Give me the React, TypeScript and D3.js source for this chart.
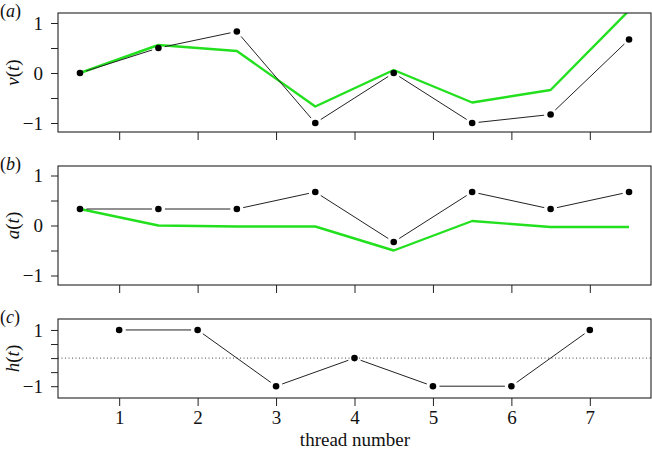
import { useEffect, useRef } from "react";
import * as d3 from "d3";

const halfSteps = [0.5, 1.5, 2.5, 3.5, 4.5, 5.5, 6.5, 7.5];
const threads = [1, 2, 3, 4, 5, 6, 7];

const vObserved = [0, 0.5, 0.83, -1, 0, -1, -0.83, 0.67];
const vModel = [0, 0.56, 0.44, -0.67, 0.06, -0.59, -0.34, 1.25];
const aObserved = [0.33, 0.33, 0.33, 0.67, -0.33, 0.67, 0.33, 0.67];
const aModel = [0.33, 0, -0.02, -0.02, -0.5, 0.09, -0.03, -0.03];
const hValues = [1, 1, -1, 0, -1, -1, 1];

const yTicks = [-1, -0.5, 0, 0.5, 1];
const xTicks = [1, 2, 3, 4, 5, 6, 7];

export default function App() {
  const ref = useRef<SVGSVGElement>(null);

  useEffect(() => {
    if (!ref.current) return;
    const svg = d3.select(ref.current);
    svg.selectAll("*").remove();

    const font = "'Liberation Serif', serif";
    const left = 58;
    const right = 651;

    const x = d3.scaleLinear().domain([0.22, 7.78]).range([left, right]);

    const panels = [
      { tag: "a", name: "v", top: 13, bottom: 132, dom: [-1.18, 1.2], xs: halfSteps, obs: vObserved, model: vModel, labels: [-1, 0, 1], zero: false, last: false },
      { tag: "b", name: "a", top: 166, bottom: 285, dom: [-1.19, 1.19], xs: halfSteps, obs: aObserved, model: aModel, labels: [-1, 0, 1], zero: false, last: false },
      { tag: "c", name: "h", top: 319, bottom: 398, dom: [-1.42, 1.39], xs: threads, obs: hValues, model: null, labels: [-1, 1], zero: true, last: true },
    ];

    panels.forEach((p, i) => {
      const y = d3.scaleLinear().domain(p.dom).range([p.bottom, p.top]);
      const g = svg.append("g");

      const clipId = `clip-${i}`;
      svg.append("clipPath").attr("id", clipId)
        .append("rect")
        .attr("x", left).attr("y", p.top)
        .attr("width", right - left).attr("height", p.bottom - p.top);

      // Zero reference line
      if (p.zero) {
        g.append("line")
          .attr("x1", left).attr("x2", right)
          .attr("y1", y(0)).attr("y2", y(0))
          .attr("stroke", "#333").attr("stroke-width", 0.9)
          .attr("stroke-dasharray", "1,2.5");
      }

      // Model line
      if (p.model) {
        const line = d3.line<number>()
          .x((_, j) => x(p.xs[j]))
          .y(d => y(d));
        g.append("path")
          .datum(p.model)
          .attr("clip-path", `url(#${clipId})`)
          .attr("fill", "none")
          .attr("stroke", "#22e01e")
          .attr("stroke-width", 2.4)
          .attr("stroke-linejoin", "round")
          .attr("d", line);
      }

      // Observed: segments with gaps around the points
      const gap = 6.5;
      const pts = p.obs.map((d, j) => [x(p.xs[j]), y(d)]);
      for (let j = 0; j < pts.length - 1; j++) {
        const [x0, y0] = pts[j];
        const [x1, y1] = pts[j + 1];
        const len = Math.hypot(x1 - x0, y1 - y0);
        if (len <= gap * 2) continue;
        const ux = (x1 - x0) / len;
        const uy = (y1 - y0) / len;
        g.append("line")
          .attr("x1", x0 + ux * gap).attr("y1", y0 + uy * gap)
          .attr("x2", x1 - ux * gap).attr("y2", y1 - uy * gap)
          .attr("stroke", "#222").attr("stroke-width", 1);
      }
      g.selectAll("circle.pt")
        .data(pts)
        .enter()
        .append("circle")
        .attr("cx", d => d[0])
        .attr("cy", d => d[1])
        .attr("r", 3.3)
        .attr("fill", "#000");

      // Box
      g.append("rect")
        .attr("x", left).attr("y", p.top)
        .attr("width", right - left).attr("height", p.bottom - p.top)
        .attr("fill", "none").attr("stroke", "#222").attr("stroke-width", 1.1);

      // Y axis
      const yAxis = g.append("g")
        .attr("transform", `translate(${left},0)`)
        .call(d3.axisLeft(y).tickValues(yTicks).tickSize(7)
          .tickFormat(d => (p.labels.includes(+d) ? (+d < 0 ? "\u2212" + Math.abs(+d) : String(d)) : "")));
      yAxis.attr("font-family", font).attr("font-size", 19);
      yAxis.select(".domain").remove();
      yAxis.selectAll("line").attr("stroke", "#222");
      yAxis.selectAll("text")
        .attr("x", -15)
        .attr("fill", "#111");

      // X axis
      const xAxis = g.append("g")
        .attr("transform", `translate(0,${p.bottom})`)
        .call(d3.axisBottom(x).tickValues(xTicks).tickSize(8)
          .tickFormat(d => (p.last ? String(d) : "")));
      xAxis.attr("font-family", font).attr("font-size", 19);
      xAxis.select(".domain").remove();
      xAxis.selectAll("line").attr("stroke", "#222");
      xAxis.selectAll("text")
        .attr("y", 13)
        .attr("fill", "#111");

      // Y label
      const cy = (p.top + p.bottom) / 2;
      const lab = g.append("text")
        .attr("transform", `translate(19,${cy}) rotate(-90)`)
        .attr("text-anchor", "middle")
        .attr("font-family", font)
        .attr("font-size", 19)
        .attr("fill", "#111");
      lab.append("tspan").attr("font-style", "italic").text(p.name);
      lab.append("tspan").text("(");
      lab.append("tspan").attr("font-style", "italic").text("t");
      lab.append("tspan").text(")");

      // Panel tag
      const tag = g.append("text")
        .attr("x", 0).attr("y", p.top + 4)
        .attr("font-family", font)
        .attr("font-size", 18)
        .attr("fill", "#111");
      tag.append("tspan").text("(");
      tag.append("tspan").attr("font-style", "italic").text(p.tag);
      tag.append("tspan").text(")");

      if (p.last) {
        g.append("text")
          .attr("x", 355)
          .attr("y", 446)
          .attr("text-anchor", "middle")
          .attr("font-family", font)
          .attr("font-size", 19)
          .attr("fill", "#111")
          .text("thread number");
      }
    });
  }, []);

  return (
    <svg
      ref={ref}
      width={652}
      height={449}
      style={{ position: "absolute", left: 0, top: 0, background: "#fff" }}
    />
  );
}
